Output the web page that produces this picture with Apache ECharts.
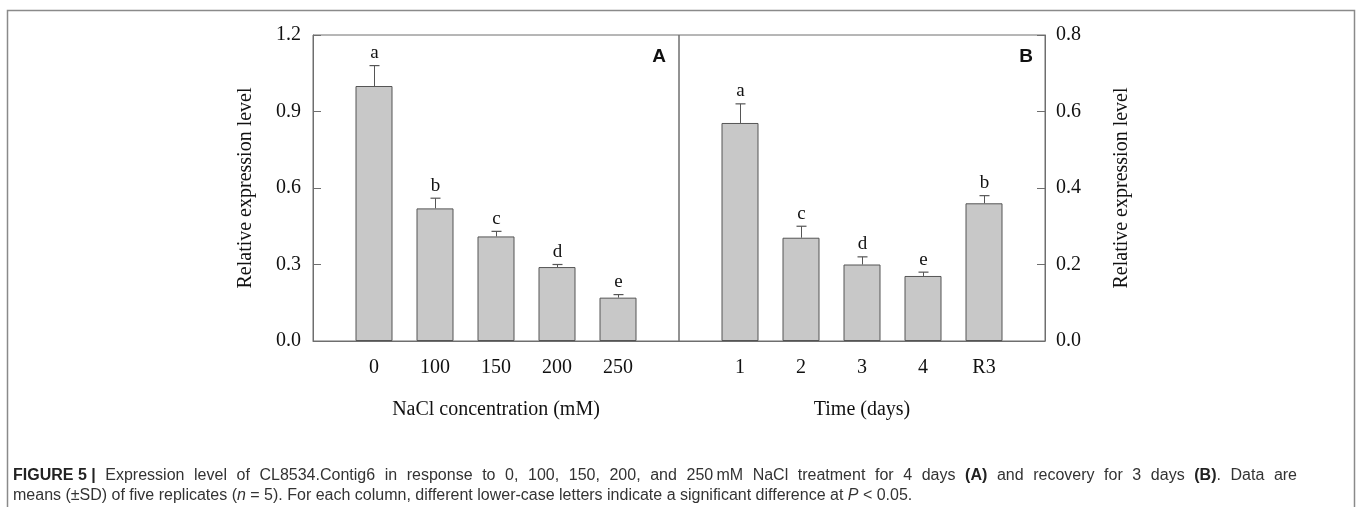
<!DOCTYPE html>
<html>
<head>
<meta charset="utf-8">
<script src="https://cdn.jsdelivr.net/npm/echarts@6/dist/echarts.min.js"></script>
<style>
html,body{margin:0;padding:0;background:#fff;}
#chart{width:1358px;height:507px;}
</style>
</head>
<body>
<div id="chart"></div>
<script>
// ---- Data ----
const catA = ['', '0', '100', '150', '200', '250', ''];
const valA = [null, 1.00, 0.52, 0.41, 0.29, 0.17, null];
const sdA = [null, 0.08, 0.04, 0.02, 0.01, 0.012, null];
const letA = ['', 'a', 'b', 'c', 'd', 'e', ''];

const catB = ['', '1', '2', '3', '4', 'R3', ''];
const valB = [null, 0.57, 0.27, 0.20, 0.17, 0.36, null];
const sdB = [null, 0.05, 0.03, 0.02, 0.01, 0.02, null];
const letB = ['', 'a', 'c', 'd', 'e', 'b', ''];

const axisA = { min: 0, max: 1.2, interval: 0.3 };
const axisB = { min: 0, max: 0.8, interval: 0.2 };

const xNameA = 'NaCl concentration (mM)';
const xNameB = 'Time (days)';
const yName = 'Relative expression level';
const panelA = 'A';
const panelB = 'B';
const caption1 = '{b|FIGURE 5 |} Expression level of CL8534.Contig6 in response to 0, 100, 150, 200, and 250\u2009mM NaCl treatment for 4 days {b|(A)} and recovery for 3 days {b|(B)}. Data are';
const caption2 = 'means (\u00B1SD) of five replicates ({i|n} = 5). For each column, different lower-case letters indicate a significant difference at {i|P} < 0.05.';

// ---- Build ----
const SERIF = '"Liberation Serif", "Times New Roman", serif';
const SANS = '"Liberation Sans", Arial, sans-serif';
const AXC = '#6e6e6e';
const CAP_FS = 16;

function errData(vals, sds) {
  const out = [];
  vals.forEach((v, i) => { if (v !== null) out.push([i, v, sds[i]]); });
  return out;
}
function letterList(vals, lets) {
  const out = [];
  vals.forEach((v, i) => { if (v !== null) out.push(lets[i]); });
  return out;
}
function makeRender(letters) {
  return function (params, api) {
    const x = api.value(0), m = api.value(1), s = api.value(2);
    const base = api.coord([x, m]);
    const top = api.coord([x, m + s]);
    const half = 5;
    const cx = Math.round(base[0]) + 0.5;
    return {
      type: 'group',
      children: [
        { type: 'line', shape: { x1: cx, y1: base[1], x2: cx, y2: top[1] }, style: { stroke: '#555', lineWidth: 1 } },
        { type: 'line', shape: { x1: cx - half, y1: top[1], x2: cx + half, y2: top[1] }, style: { stroke: '#555', lineWidth: 1.2 } },
        { type: 'text', x: cx, y: top[1] - 3, style: { text: letters[params.dataIndex], fill: '#111', fontSize: 19, fontFamily: SERIF, align: 'center', verticalAlign: 'bottom' } }
      ]
    };
  };
}

// caption helpers (justified first line)
const measureCtx = document.createElement('canvas').getContext('2d');
const richStyles = {
  b: { fontWeight: 'bold', fontSize: CAP_FS, fontFamily: SANS, fill: '#222' },
  i: { fontStyle: 'italic', fontSize: CAP_FS, fontFamily: SANS, fill: '#333' }
};
function splitTokens(str) {
  const tokens = []; let cur = ''; let depth = 0;
  for (const ch of str) {
    if (ch === '{') depth++;
    if (ch === '}') depth--;
    if (ch === ' ' && depth === 0) { if (cur) tokens.push(cur); cur = ''; }
    else cur += ch;
  }
  if (cur) tokens.push(cur);
  return tokens;
}
function tokenWidth(tok) {
  const re = /\{(\w)\|([^}]*)\}|([^{]+)/g; let m, w = 0;
  while ((m = re.exec(tok))) {
    if (m[1]) { measureCtx.font = (m[1] === 'b' ? 'bold ' : 'italic ') + CAP_FS + 'px ' + SANS; w += measureCtx.measureText(m[2]).width; }
    else { measureCtx.font = CAP_FS + 'px ' + SANS; w += measureCtx.measureText(m[3]).width; }
  }
  return w;
}
function justifiedLine(str, x0, x1, y) {
  const toks = splitTokens(str);
  const widths = toks.map(tokenWidth);
  const total = widths.reduce((a, b) => a + b, 0);
  const gap = (x1 - x0 - total) / (toks.length - 1);
  const out = []; let x = x0;
  toks.forEach((t, k) => {
    out.push({ type: 'text', x: x, y: y, style: { text: t, fontSize: CAP_FS, fontFamily: SANS, fill: '#333', verticalAlign: 'middle', rich: richStyles } });
    x += widths[k] + gap;
  });
  return out;
}

const grids = [
  { left: 313, top: 35, width: 366, height: 306, show: true, borderColor: AXC, borderWidth: 1, backgroundColor: 'transparent' },
  { left: 679, top: 35, width: 366, height: 306, show: true, borderColor: AXC, borderWidth: 1, backgroundColor: 'transparent' }
];

function xAxisCfg(gi, cats, name) {
  return {
    type: 'category', gridIndex: gi, data: cats, boundaryGap: false,
    axisLine: { show: true, lineStyle: { color: AXC, width: 1 } },
    axisTick: { show: false },
    axisLabel: { color: '#111', fontSize: 20, fontFamily: SERIF, margin: 17, interval: 0 },
    name: name, nameLocation: 'middle', nameGap: 59,
    nameTextStyle: { color: '#111', fontSize: 20, fontFamily: SERIF },
    splitLine: { show: false }
  };
}
function yAxisCfg(gi, ax, pos, gap, margin) {
  return {
    type: 'value', gridIndex: gi, position: pos, min: ax.min, max: ax.max, interval: ax.interval,
    axisLine: { show: true, lineStyle: { color: AXC, width: 1 } },
    axisTick: { show: true, inside: true, length: 8, lineStyle: { color: AXC } },
    axisLabel: { color: '#111', fontSize: 20, fontFamily: SERIF, margin: margin, formatter: v => v.toFixed(1) },
    splitLine: { show: false },
    name: yName, nameLocation: 'middle', nameGap: gap,
    nameTextStyle: { color: '#111', fontSize: 20, fontFamily: SERIF }
  };
}

const barStyle = { color: '#c8c8c8', borderColor: '#555', borderWidth: 1 };

const option = {
  animation: false,
  backgroundColor: '#fff',
  grid: grids,
  xAxis: [xAxisCfg(0, catA, xNameA), xAxisCfg(1, catB, xNameB)],
  yAxis: [yAxisCfg(0, axisA, 'left', 57, 12), yAxisCfg(1, axisB, 'right', 67, 11)],
  series: [
    { type: 'bar', xAxisIndex: 0, yAxisIndex: 0, data: valA, barWidth: 37, itemStyle: barStyle, silent: true },
    { type: 'custom', xAxisIndex: 0, yAxisIndex: 0, data: errData(valA, sdA), renderItem: makeRender(letterList(valA, letA)), z: 5 },
    { type: 'bar', xAxisIndex: 1, yAxisIndex: 1, data: valB, barWidth: 37, itemStyle: barStyle, silent: true },
    { type: 'custom', xAxisIndex: 1, yAxisIndex: 1, data: errData(valB, sdB), renderItem: makeRender(letterList(valB, letB)), z: 5 }
  ],
  graphic: [
    { type: 'rect', shape: { x: 7.5, y: 10.5, width: 1347, height: 520 }, style: { fill: 'none', stroke: '#8a8a8a', lineWidth: 1.5 }, z: 0 },
    { type: 'text', x: 659, y: 57, style: { text: panelA, fontSize: 19, fontWeight: 'bold', fontFamily: SANS, fill: '#111', align: 'center', verticalAlign: 'middle' } },
    { type: 'text', x: 1026, y: 57, style: { text: panelB, fontSize: 19, fontWeight: 'bold', fontFamily: SANS, fill: '#111', align: 'center', verticalAlign: 'middle' } }
  ].concat(justifiedLine(caption1, 13, 1297, 476)).concat([
    { type: 'text', x: 13, y: 496, style: { text: caption2, fontSize: CAP_FS, fontFamily: SANS, fill: '#333', verticalAlign: 'middle', rich: richStyles } }
  ])
};

const chart = echarts.init(document.getElementById('chart'), null, { renderer: 'canvas' });
chart.setOption(option);
</script>
</body>
</html>
